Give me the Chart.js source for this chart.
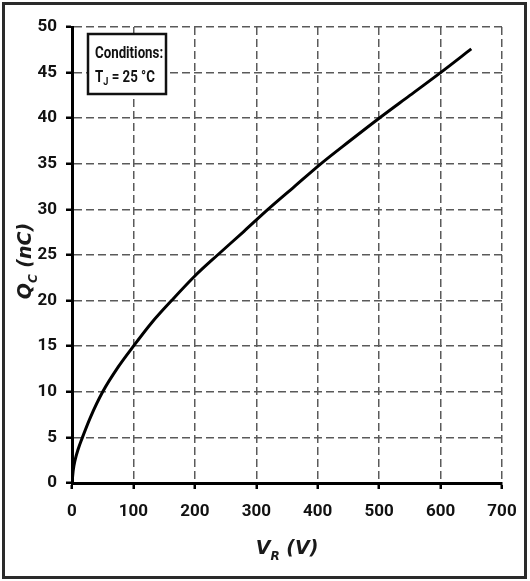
<!DOCTYPE html>
<html>
<head>
<meta charset="utf-8">
<script src="https://cdn.jsdelivr.net/npm/chart.js@4.4.1/dist/chart.umd.min.js"></script>
<style>
    html, body { margin: 0; padding: 0; background: #fff; }
    #wrap { width: 530px; height: 581px; position: relative; }
</style>
</head>
<body>
<div id="wrap"><canvas id="chart" width="530" height="581"></canvas></div>
<script>
// reverse voltage (V) and capacitive charge (nC)
const vr = [0, 2, 5, 10, 17, 30, 50, 75, 100, 130, 162, 200, 237, 280, 319, 362, 405, 452, 500, 550, 600, 650];
const qc = [0, 1.4, 2.5, 3.7, 5, 7.2, 10, 12.7, 15, 17.6, 20, 22.7, 25, 27.6, 30, 32.5, 35, 37.5, 40, 42.5, 45, 47.6];

const xTicks = [0, 100, 200, 300, 400, 500, 600, 700];
const yTicks = [0, 5, 10, 15, 20, 25, 30, 35, 40, 45, 50];

const xTitle = ['V', 'R', ' (V)'];
const yTitle = ['Q', 'C', ' (nC)'];
const noteLine1 = 'Conditions:';
const noteLine2 = ['T', 'J', ' = 25 °C'];

const tickFont = '"Liberation Sans Narrow", Roboto, sans-serif';
const titleFont = '"DejaVu Sans", sans-serif';

// text with a subscript after the first letter
function subText(ctx, parts, x, y, size, align) {
    const big = 'italic bold ' + size + 'px ' + titleFont;
    const small = 'italic bold ' + Math.round(size * 0.62) + 'px ' + titleFont;
    ctx.font = big;
    const w0 = ctx.measureText(parts[0]).width;
    const w2 = ctx.measureText(parts[2]).width;
    ctx.font = small;
    const w1 = ctx.measureText(parts[1]).width;
    let sx = align === 'center' ? x - (w0 + w1 + w2) / 2 : x;
    ctx.textAlign = 'left';
    ctx.textBaseline = 'alphabetic';
    ctx.font = big;
    ctx.fillText(parts[0], sx, y);
    ctx.font = small;
    ctx.fillText(parts[1], sx + w0, y + size * 0.3);
    ctx.font = big;
    ctx.fillText(parts[2], sx + w0 + w1, y);
}

const decorations = {
    id: 'decorations',
    afterDraw(chart) {
        const ctx = chart.ctx;
        const area = chart.chartArea;
        ctx.save();

        // outer frame
        ctx.strokeStyle = '#2a2a2a';
        ctx.lineWidth = 3;
        ctx.strokeRect(3.5, 3.5, 522, 574);

        ctx.fillStyle = '#1a1a1a';
        // x title
        subText(ctx, xTitle, (area.left + area.right) / 2, 554, 19, 'center');
        // y title
        ctx.save();
        ctx.translate(31, (area.top + area.bottom) / 2 + 6);
        ctx.rotate(-Math.PI / 2);
        subText(ctx, yTitle, 0, 0, 19, 'center');
        ctx.restore();

        // conditions box
        ctx.fillStyle = '#fff';
        ctx.fillRect(88, 34, 78, 60);
        ctx.strokeStyle = '#111';
        ctx.lineWidth = 2.5;
        ctx.strokeRect(88, 34, 78, 60);
        ctx.fillStyle = '#111';
        ctx.textAlign = 'left';
        ctx.textBaseline = 'alphabetic';
        // squeeze the text a bit, the original uses a condensed face
        ctx.save();
        ctx.translate(95, 0);
        ctx.scale(0.83, 1);
        ctx.font = 'bold 16px ' + tickFont;
        ctx.fillText(noteLine1, 0, 58);
        ctx.fillText(noteLine2[0], 0, 82);
        const tw = ctx.measureText(noteLine2[0]).width;
        ctx.font = 'bold 11px ' + tickFont;
        ctx.fillText(noteLine2[1], tw, 85);
        const jw = ctx.measureText(noteLine2[1]).width;
        ctx.font = 'bold 16px ' + tickFont;
        ctx.fillText(noteLine2[2], tw + jw, 82);
        ctx.restore();

        ctx.restore();
    }
};

const gridStyle = {
    color: '#5a5a5a',
    lineWidth: 1.5,
    tickColor: '#000',
    tickWidth: 2.5,
    tickLength: 6,
    tickBorderDash: []
};

new Chart(document.getElementById('chart'), {
    type: 'line',
    data: {
        datasets: [{
            data: vr.map((v, i) => ({ x: v, y: qc[i] })),
            borderColor: '#000',
            borderWidth: 3,
            pointRadius: 0,
            fill: false,
            cubicInterpolationMode: 'monotone'
        }]
    },
    options: {
        responsive: false,
        animation: false,
        layout: { padding: { left: 0, right: 28, top: 27, bottom: 0 } },
        plugins: {
            legend: { display: false },
            tooltip: { enabled: false },
            title: { display: false }
        },
        scales: {
            x: {
                type: 'linear',
                min: 0,
                max: 700,
                afterBuildTicks: s => { s.ticks = xTicks.map(v => ({ value: v })); },
                afterFit: s => { s.height = 98; },
                grid: gridStyle,
                border: { display: true, color: '#000', width: 3, dash: [8, 4] },
                ticks: {
                    color: '#111',
                    padding: 13,
                    maxRotation: 0,
                    font: { family: tickFont, size: 17, weight: 'bold' }
                }
            },
            y: {
                type: 'linear',
                min: 0,
                max: 50,
                afterBuildTicks: s => { s.ticks = yTicks.map(v => ({ value: v })); },
                afterFit: s => { s.width = 72; },
                grid: gridStyle,
                border: { display: true, color: '#000', width: 3, dash: [8, 4] },
                ticks: {
                    color: '#111',
                    padding: 9,
                    font: { family: tickFont, size: 17, weight: 'bold' }
                }
            }
        }
    },
    plugins: [decorations]
});
</script>
</body>
</html>
